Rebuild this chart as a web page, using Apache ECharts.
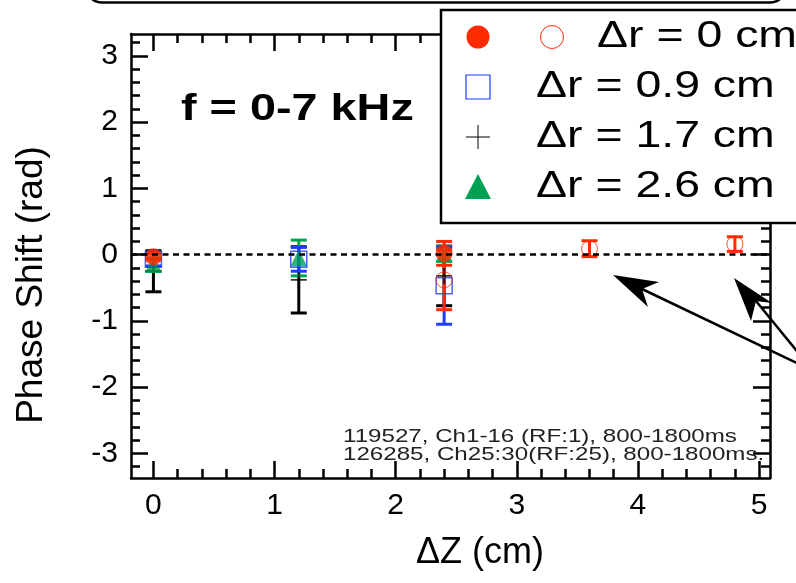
<!DOCTYPE html>
<html>
<head>
<meta charset="utf-8">
<script src="https://cdn.jsdelivr.net/npm/echarts@6/dist/echarts.min.js"></script>
<style>html,body{margin:0;padding:0;background:#fff}#c{width:796px;height:583px}</style>
</head>
<body>
<div id="c"></div>
<script>
// ---- data ----
const xTickLabels = [0, 1, 2, 3, 4, 5];
const yTickLabels = [-3, -2, -1, 0, 1, 2, 3];

// Δr = 0 cm (filled, 119527)
const r0FilledX = [0, 2.4];
const r0FilledY = [-0.03, 0.02];
const r0FilledErr = [0.05, 0.18];
// Δr = 0 cm (open, 126285)
const r0OpenX = [2.4, 3.6, 4.8];
const r0OpenY = [-0.38, 0.09, 0.16];
const r0OpenErr = [0.45, 0.12, 0.11];
// Δr = 0.9 cm
const r09X = [0, 1.2, 2.4];
const r09Y = [-0.07, -0.07, -0.47];
const r09Err = [0.10, 0.18, 0.58];
// Δr = 1.7 cm
const r17X = [0, 1.2, 2.4];
const r17Y = [-0.25, -0.38, -0.32];
const r17Err = [0.31, 0.50, 0.45];
// Δr = 2.6 cm
const r26X = [0, 1.2, 2.4];
const r26Y = [-0.15, -0.05, 0.01];
const r26Err = [0.10, 0.27, 0.11];

const legendLabels = ['\u0394r = 0 cm', '\u0394r = 0.9 cm', '\u0394r = 1.7 cm', '\u0394r = 2.6 cm'];
const noteLines = ['119527, Ch1-16 (RF:1), 800-1800ms', '126285, Ch25:30(RF:25), 800-1800ms.'];

// ---- styling ----
const RED = '#ff2a00', BLUE = '#1f3dff', GREEN = '#00a054', BLACK = '#000';
const X_MIN = -0.185, X_MAX = 5.09, Y_MIN = -3.37, Y_MAX = 3.33;
const FONT = 'Liberation Sans, Arial, Helvetica, sans-serif';

function range(a, b, step) { const out = []; for (let v = a; v <= b + 1e-9; v += step) out.push(Math.round(v * 10) / 10); return out; }
const xMinor = range(-0.2, 5.0, 0.2).filter(v => v >= X_MIN && Math.abs(v - Math.round(v)) > 1e-6);
const yMinor = range(-3.2, 3.2, 0.2).filter(v => Math.abs(v - Math.round(v)) > 1e-6);

const AXLINE = { show: true, onZero: false, lineStyle: { color: BLACK, width: 2.5 } };
function xAx(pos, major, labels) {
  return {
    type: 'value', min: X_MIN, max: X_MAX, position: pos,
    axisLine: major ? AXLINE : { show: false, onZero: false },
    splitLine: { show: false },
    axisTick: { show: true, inside: true, length: major ? 17 : 9, customValues: major ? xTickLabels : xMinor, lineStyle: { color: BLACK, width: 2.5 } },
    axisLabel: labels ? { show: true, customValues: xTickLabels, fontSize: 30, color: BLACK, fontFamily: FONT, margin: 13 } : { show: false }
  };
}
function yAx(pos, major, labels) {
  return {
    type: 'value', min: Y_MIN, max: Y_MAX, position: pos,
    axisLine: major ? AXLINE : { show: false, onZero: false },
    splitLine: { show: false },
    axisTick: { show: true, inside: true, length: major ? 17 : 9, customValues: major ? yTickLabels : yMinor, lineStyle: { color: BLACK, width: 2.5 } },
    axisLabel: labels ? { show: true, customValues: yTickLabels, fontSize: 30, color: BLACK, fontFamily: FONT, margin: 13 } : { show: false }
  };
}

function errData(xs, ys, es) { return xs.map((x, i) => [x, ys[i] - es[i], ys[i] + es[i]]); }
function ptData(xs, ys) { return xs.map((x, i) => [x, ys[i]]); }

function errSeries(xs, ys, es, color) {
  return {
    type: 'custom', xAxisIndex: 0, yAxisIndex: 0, clip: false, silent: true,
    data: errData(xs, ys, es),
    encode: { x: 0, y: [1, 2] },
    renderItem: function (params, api) {
      const x = api.value(0);
      const p1 = api.coord([x, api.value(1)]);
      const p2 = api.coord([x, api.value(2)]);
      const w = 8;
      const st = { stroke: color, lineWidth: 3 };
      return {
        type: 'group', children: [
          { type: 'line', shape: { x1: p1[0], y1: p1[1], x2: p2[0], y2: p2[1] }, style: st },
          { type: 'line', shape: { x1: p1[0] - w, y1: p1[1], x2: p1[0] + w, y2: p1[1] }, style: st },
          { type: 'line', shape: { x1: p2[0] - w, y1: p2[1], x2: p2[0] + w, y2: p2[1] }, style: st }
        ]
      };
    }
  };
}
function ptSeries(xs, ys, symbol, size, itemStyle) {
  return {
    type: 'scatter', xAxisIndex: 0, yAxisIndex: 0, silent: true,
    data: ptData(xs, ys), symbol: symbol, symbolSize: size, itemStyle: itemStyle
  };
}

const PLUS = 'path://M0,4.45H10V5.55H0Z M4.45,0H5.55V10H4.45Z';

const chart = echarts.init(document.getElementById('c'), null, { renderer: 'canvas' });

const legendX = 478, rowY = [37, 87, 137, 187];
const LEG_FONT = '36px ' + FONT, LEG_SX = 1.29;
const option = {
  animation: false,
  backgroundColor: '#fff',
  grid: { left: 131, right: 26, top: 34, bottom: 105 },
  xAxis: [xAx('bottom', true, true), xAx('bottom', false, false), xAx('top', true, false), xAx('top', false, false)],
  yAxis: [yAx('left', true, true), yAx('left', false, false), yAx('right', true, false), yAx('right', false, false)],
  series: [
    {
      type: 'line', xAxisIndex: 0, yAxisIndex: 0, data: [], silent: true,
      markLine: { silent: true, symbol: 'none', label: { show: false }, lineStyle: { color: BLACK, width: 2.5, type: [6, 4.5] }, data: [{ yAxis: 0 }] }
    },
    errSeries(r17X, r17Y, r17Err, BLACK),
    ptSeries(r17X, r17Y, PLUS, 16, { color: BLACK }),
    errSeries(r26X, r26Y, r26Err, GREEN),
    ptSeries(r26X, r26Y, 'triangle', 17, { color: GREEN }),
    errSeries(r09X, r09Y, r09Err, BLUE),
    ptSeries(r09X, r09Y, 'rect', 16, { color: 'rgba(0,0,0,0)', borderColor: BLUE, borderWidth: 1.5 }),
    errSeries(r0OpenX, r0OpenY, r0OpenErr, RED),
    ptSeries(r0OpenX, r0OpenY, 'circle', 16, { color: 'rgba(0,0,0,0)', borderColor: RED, borderWidth: 1 }),
    errSeries(r0FilledX, r0FilledY, r0FilledErr, RED),
    ptSeries(r0FilledX, r0FilledY, 'circle', 17, { color: RED })
  ],
  graphic: [
    // rounded title box (mostly cut off)
    { type: 'rect', shape: { x: 86, y: -60, width: 700, height: 62.5, r: 16 }, style: { fill: 'none', stroke: BLACK, lineWidth: 2.5 } },
    // legend box
    { type: 'rect', shape: { x: 441, y: 10, width: 420, height: 213 }, style: { fill: '#fff', stroke: BLACK, lineWidth: 2.5 }, z: 10 },
    { type: 'circle', shape: { cx: legendX, cy: rowY[0], r: 11.5 }, style: { fill: RED }, z: 11 },
    { type: 'circle', shape: { cx: 552, cy: rowY[0], r: 11.5 }, style: { fill: 'none', stroke: RED, lineWidth: 1 }, z: 11 },
    { type: 'rect', shape: { x: legendX - 12, y: rowY[1] - 12, width: 24, height: 24 }, style: { fill: 'none', stroke: BLUE, lineWidth: 1.2 }, z: 11 },
    { type: 'polyline', shape: { points: [[legendX - 12, rowY[2]], [legendX + 12, rowY[2]]] }, style: { stroke: BLACK, lineWidth: 1 }, z: 11 },
    { type: 'polyline', shape: { points: [[legendX, rowY[2] - 12], [legendX, rowY[2] + 12]] }, style: { stroke: BLACK, lineWidth: 1 }, z: 11 },
    { type: 'polygon', shape: { points: [[legendX, rowY[3] - 13], [legendX + 13, rowY[3] + 12], [legendX - 13, rowY[3] + 12]] }, style: { fill: GREEN }, z: 11 },
    { type: 'text', x: 597, y: rowY[0], scaleX: LEG_SX, z: 11, style: { text: legendLabels[0], font: LEG_FONT, fill: BLACK, textVerticalAlign: 'middle' } },
    { type: 'text', x: 536, y: rowY[1], scaleX: LEG_SX, z: 11, style: { text: legendLabels[1], font: LEG_FONT, fill: BLACK, textVerticalAlign: 'middle' } },
    { type: 'text', x: 536, y: rowY[2], scaleX: LEG_SX, z: 11, style: { text: legendLabels[2], font: LEG_FONT, fill: BLACK, textVerticalAlign: 'middle' } },
    { type: 'text', x: 536, y: rowY[3], scaleX: LEG_SX, z: 11, style: { text: legendLabels[3], font: LEG_FONT, fill: BLACK, textVerticalAlign: 'middle' } },
    // frequency label
    { type: 'text', x: 181, y: 110, scaleX: 1.3, style: { text: 'f = 0-7 kHz', font: 'bold 36px ' + FONT, fill: BLACK, textVerticalAlign: 'middle' } },
    // notes
    { type: 'text', x: 343, y: 437, scaleX: 1.27, style: { text: noteLines[0], font: '19px ' + FONT, fill: '#222', textVerticalAlign: 'middle' } },
    { type: 'text', x: 343, y: 455, scaleX: 1.27, style: { text: noteLines[1], font: '19px ' + FONT, fill: '#222', textVerticalAlign: 'middle' } },
    // axis titles
    { type: 'text', x: 480, y: 553, style: { text: '\u0394Z (cm)', font: '36px ' + FONT, fill: BLACK, textAlign: 'center', textVerticalAlign: 'middle' } },
    { type: 'text', x: 32, y: 285, rotation: Math.PI / 2, style: { text: 'Phase Shift (rad)', font: '37px ' + FONT, fill: BLACK, textAlign: 'center', textVerticalAlign: 'middle' } },
    // arrows
    { type: 'polyline', shape: { points: [[642, 289], [805, 367]] }, style: { stroke: BLACK, lineWidth: 2.5 } },
    { type: 'polygon', shape: { points: [[613, 275], [659, 282], [642, 289], [648, 307]] }, style: { fill: BLACK } },
    { type: 'polyline', shape: { points: [[756, 301], [805, 361]] }, style: { stroke: BLACK, lineWidth: 2.5 } },
    { type: 'polygon', shape: { points: [[734, 278], [772, 303], [756, 301], [751, 321]] }, style: { fill: BLACK } }
  ]
};
chart.setOption(option);
</script>
</body>
</html>
